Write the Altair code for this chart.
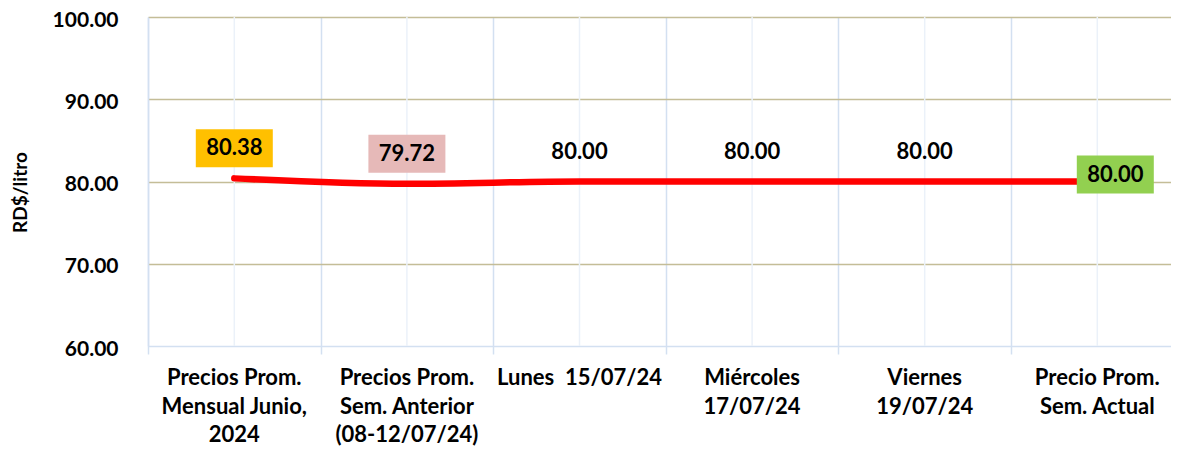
import altair as alt
import pandas as pd

categories = [
    "Precios Prom.\nMensual Junio,\n2024",
    "Precios Prom.\nSem. Anterior\n(08-12/07/24)",
    "Lunes \u00a015/07/24",
    "Miércoles\n17/07/24",
    "Viernes\n19/07/24",
    "Precio Prom.\nSem. Actual",
]
values = [80.38, 79.72, 80.00, 80.00, 80.00, 80.00]
label_fill = ["#ffc000", "#e6b9b8", None, None, None, "#92d050"]
y_ticks = [60, 70, 80, 90, 100]

n = len(categories)
df = pd.DataFrame({
    "idx": list(range(n)),
    "cat": categories,
    "value": values,
    "label": [f"{v:.2f}" for v in values],
    "fill": label_fill,
})
boundaries = [i - 0.5 for i in range(n)]

FONT = "Lato"
BLUE = "#d3e0f1"
W, H = 1023, 329

xscale = alt.Scale(domain=[-0.5, n - 0.573], nice=False, zero=False)
yscale = alt.Scale(domain=[60, 100], nice=False, zero=False)

x_enc = alt.X("idx:Q", scale=xscale, axis=alt.Axis(
    values=boundaries, labels=False, title=None, ticks=True, tickSize=8,
    tickColor=BLUE, tickWidth=1.5, grid=True, gridColor=BLUE, gridWidth=1.5,
    domainColor=BLUE, domainWidth=1.5))
y_enc = alt.Y("value:Q", scale=yscale, axis=alt.Axis(
    values=y_ticks, format=".2f", title="RD$/litro", ticks=False, tickSize=0,
    labelPadding=30, labelBaseline="alphabetic", labelOffset=9,
    labelFont=FONT, labelFontSize=21, labelFontWeight="bold",
    labelColor="#000000", grid=True, gridColor="#c4bd97", gridWidth=1.5,
    gridOpacity={"condition": {"test": "datum.value == 60", "value": 0}, "value": 1},
    domainColor=BLUE, domainWidth=1.5,
    titleFont=FONT, titleFontSize=19, titleFontWeight="bold", titleColor="#000000",
    titleX=-128, titleY=175, titleAlign="center", titleBaseline="middle"))

base = alt.Chart(df)

centers = base.mark_rule(color="#ebf1f9", strokeWidth=1.5).encode(
    x=alt.X("idx:Q", scale=xscale), y=alt.value(0), y2=alt.value(H))

line = base.mark_line(color="#ff0000", strokeWidth=6.5, interpolate="monotone",
                      strokeCap="round").encode(x=x_enc, y=y_enc)

above = base.transform_filter("datum.idx < %d" % (n - 1))
last = base.transform_filter("datum.idx == %d" % (n - 1))

box_above = above.transform_filter("datum.fill != null").mark_rect(
    width=77, height=38, yOffset=-30).encode(
    x=alt.X("idx:Q", scale=xscale), y=alt.Y("value:Q", scale=yscale),
    fill=alt.Fill("fill:N", scale=None))
text_above = above.mark_text(font=FONT, fontSize=22, fontWeight="bold",
                             color="#000000", dy=-30, baseline="middle").encode(
    x=alt.X("idx:Q", scale=xscale), y=alt.Y("value:Q", scale=yscale), text="label:N")

box_last = last.mark_rect(width=77, height=38, xOffset=18, yOffset=-7).encode(
    x=alt.X("idx:Q", scale=xscale), y=alt.Y("value:Q", scale=yscale),
    fill=alt.Fill("fill:N", scale=None))
text_last = last.mark_text(font=FONT, fontSize=22, fontWeight="bold",
                           color="#000000", dx=18, dy=-7, baseline="middle").encode(
    x=alt.X("idx:Q", scale=xscale), y=alt.Y("value:Q", scale=yscale), text="label:N")

xlabels = base.mark_text(font=FONT, fontSize=22, fontWeight="bold", color="#000000",
                         lineBreak="\n", lineHeight=28.5, baseline="alphabetic",
                         align="center").encode(
    x=alt.X("idx:Q", scale=xscale), y=alt.value(368), text="cat:N")

chart = alt.layer(centers, line, box_above, text_above, box_last, text_last, xlabels).properties(
    width=W, height=H,
    autosize=alt.AutoSizeParams(type="none"),
    padding={"left": 140, "top": 9, "right": 0, "bottom": 100},
).configure_view(stroke=None).configure(background="#ffffff")

chart.save("out.html", embed_options={"renderer": "svg", "actions": False})
